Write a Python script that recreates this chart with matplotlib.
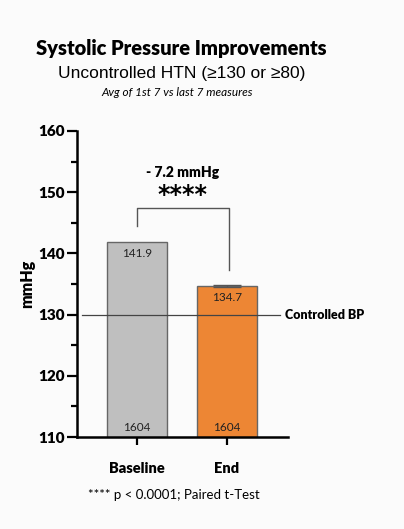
import matplotlib.pyplot as plt
from matplotlib.ticker import MultipleLocator

# data
groups = ['Baseline', 'End']
means = [141.9, 134.7]
errs = [0.0, 0.15]
counts = ['1604', '1604']
bar_colors = ['#bfbfbf', '#ed8634']
controlled_bp = 130
diff_label = '- 7.2 mmHg'
sig_label = '****'

plt.rcParams['font.family'] = ['Lato', 'DejaVu Sans']

fig = plt.figure(figsize=(4.04, 5.29), dpi=100, facecolor='#fbfbfb')
ax = fig.add_axes([0.1906, 0.1739, 0.5223, 0.5785])
ax.set_facecolor('#fbfbfb')

x = range(len(groups))
ax.bar(x, means, width=0.667, color=bar_colors, edgecolor='#666666', linewidth=1.0, zorder=2)
ax.errorbar([1], [means[1]], yerr=[errs[1]], fmt='none', ecolor='#555555', capsize=10, elinewidth=1, zorder=3)

for i in x:
    ax.text(i, means[i] - 1.0, f'{means[i]:.1f}', ha='center', va='top', fontsize=8.5, color='#222222', zorder=4)
    ax.text(i, 110.6, counts[i], ha='center', va='bottom', fontsize=8.5, color='#222222', zorder=4)

# controlled BP line
ax.plot([-0.611, 1.589], [controlled_bp, controlled_bp], color='#444444', lw=0.9, zorder=3, clip_on=False)
ax.text(1.644, controlled_bp, 'Controlled BP', ha='left', va='center', fontsize=9,
        fontweight='heavy', clip_on=False)

# significance bracket
ax.plot([0, 0, 1.02, 1.02], [144.5, 147.4, 147.4, 137.3], color='#555555', lw=1.0, zorder=3)
ax.text(0.51, 147.6, sig_label, ha='center', va='bottom', fontsize=17, fontweight='bold',
        family='DejaVu Sans')
ax.text(0.51, 152.2, diff_label, ha='center', va='bottom', fontsize=10, fontweight='heavy')

ax.set_xlim(-0.667, 1.678)
ax.set_ylim(110, 160)
ax.set_xticks(list(x))
ax.set_xticklabels(groups, fontsize=10.5, fontweight='heavy')
ax.yaxis.set_major_locator(MultipleLocator(10))
ax.yaxis.set_minor_locator(MultipleLocator(5))
for lbl in ax.get_yticklabels():
    lbl.set_fontweight('heavy')
ax.tick_params(axis='y', which='major', length=7, width=1.6, labelsize=11, pad=2)
ax.tick_params(axis='y', which='minor', length=4, width=1.6)
ax.tick_params(axis='x', length=6, width=1.6, pad=12)
ax.set_ylabel('mmHg', fontsize=11.5, fontweight='heavy', labelpad=2)

for s in ['top', 'right']:
    ax.spines[s].set_visible(False)
for s in ['left', 'bottom']:
    ax.spines[s].set_linewidth(1.8)

fig.text(0.45, 0.909, 'Systolic Pressure Improvements', ha='center', va='center',
         fontsize=14.5, fontweight='heavy')
fig.text(0.45, 0.862, 'Uncontrolled HTN (≥130 or ≥80)', ha='center', va='center',
         fontsize=12.5, family=['Liberation Sans', 'DejaVu Sans'])
fig.text(0.438, 0.826, 'Avg of 1st 7 vs last 7 measures', ha='center', va='center',
         fontsize=8.5, style='italic')
fig.text(0.43, 0.064, '**** p < 0.0001; Paired t-Test', ha='center', va='center', fontsize=9.5)

fig.savefig('out.png', dpi=100, facecolor=fig.get_facecolor())
